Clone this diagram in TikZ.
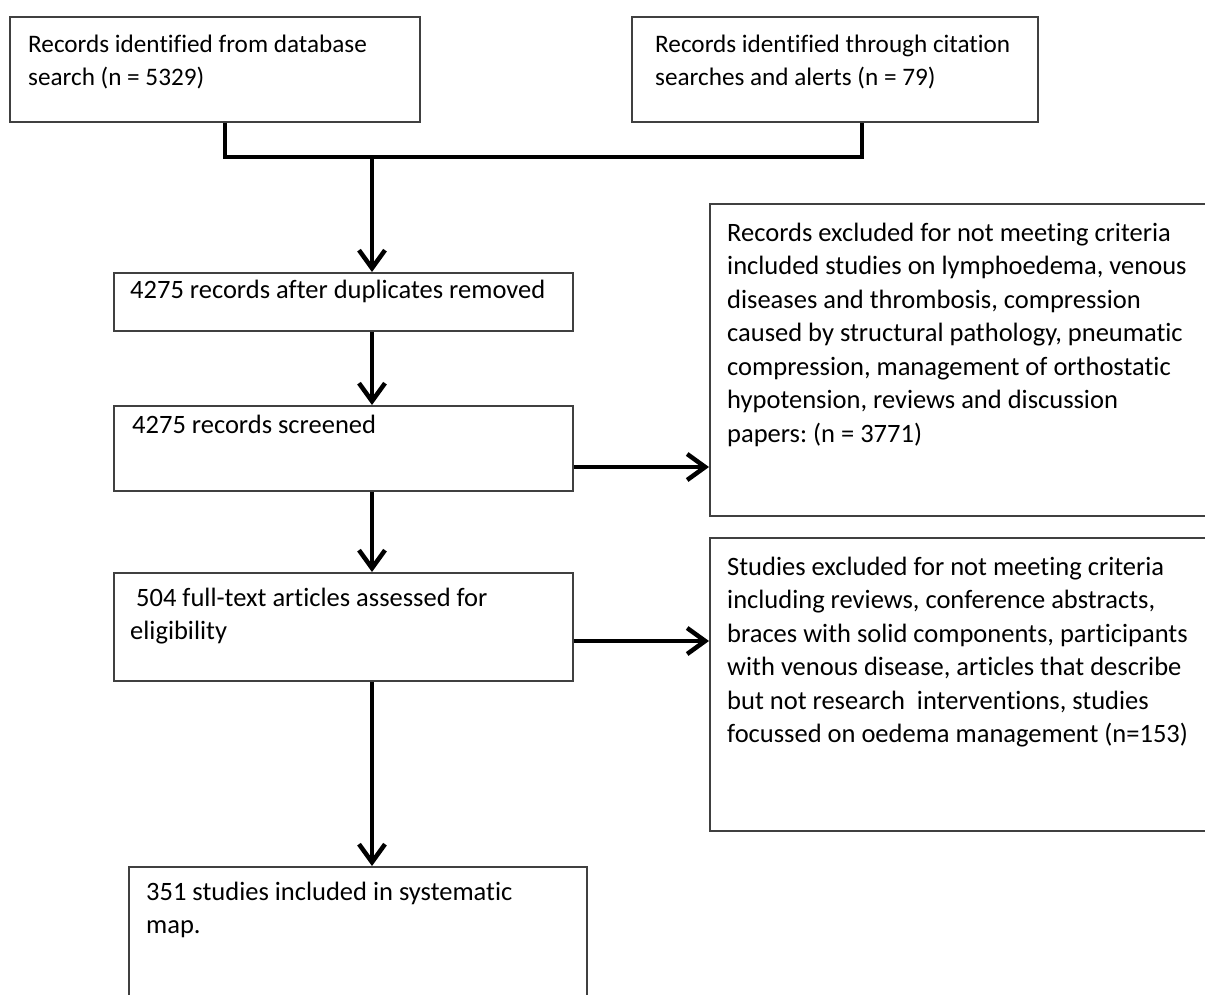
\documentclass[tikz,border=0pt]{standalone}
\usepackage{fontspec}
\setmainfont{Carlito}[Ligatures=NoCommon]
\frenchspacing
\usetikzlibrary{arrows.meta, positioning}

\begin{document}
\begin{tikzpicture}[x=1pt, y=-1pt,
    stage/.style={rectangle, draw=black!75, line width=1.5pt, anchor=north west, inner sep=0pt},
    stagetext/.style={anchor=north west, inner sep=0pt, align=left, font=\fontsize{26.5}{33.5}\selectfont},
    sourcetext/.style={stagetext, font=\fontsize{25.2}{33}\selectfont},
    flow/.style={line width=4.5pt, -{Straight Barb[length=18pt, width=26pt]}},
    bracket/.style={line width=4.5pt, line join=miter}
]
\clip (0,0) rectangle (1205,994);
% Identification
\node[stage, minimum width=410, minimum height=105] (dbsearch) at (9,16) {};
\node[sourcetext] (dbsearchtext) at ([shift={(19,18.5)}]dbsearch.north west) {Records identified from database\\search (n = 5329)};
\node[stage, minimum width=406, minimum height=105] (citesearch) at (631,16) {};
\node[sourcetext] (citesearchtext) at ([shift={(24,18.5)}]citesearch.north west) {Records identified through citation\\searches and alerts (n = 79)};
% Screening
\node[stage, minimum width=459, minimum height=58] (dedup) at (113,272) {};
\node[stagetext] (deduptext) at ([shift={(17,7.5)}]dedup.north west) {4275 records after duplicates removed};
\node[stage, minimum width=459, minimum height=85] (screened) at (113,405) {};
\node[stagetext] (screenedtext) at ([shift={(19,9.5)}]screened.north west) {4275 records screened};
\node[stage, minimum width=530, minimum height=312] (notmet) at (709,203) {};
\node[stagetext] (notmettext) at ([shift={(18,19.5)}]notmet.north west) {Records excluded for not meeting criteria\\included studies on lymphoedema, venous\\diseases and thrombosis, compression\\caused by structural pathology, pneumatic\\compression, management of orthostatic\\hypotension, reviews and discussion\\papers: (n = 3771)};
% Eligibility
\node[stage, minimum width=459, minimum height=108] (fulltext) at (113,572) {};
\node[stagetext] (fulltexttext) at ([shift={(17,15.5)}]fulltext.north west) {~504 full-text articles assessed for\\eligibility};
\node[stage, minimum width=530, minimum height=293] (excluded) at (709,537) {};
\node[stagetext] (excludedtext) at ([shift={(18,19.5)}]excluded.north west) {Studies excluded for not meeting criteria\\including reviews, conference abstracts,\\braces with solid components, participants\\with venous disease, articles that describe\\but not research~ interventions, studies\\focussed on oedema management (n=153)};
% Included
\node[stage, minimum width=458, minimum height=150] (included) at (128,866) {};
\node[stagetext] (includedtext) at ([shift={(18,15.5)}]included.north west) {351 studies included in systematic\\map.};
% Connectors
\coordinate (jl) at (225,157);
\coordinate (jr) at (862,157);
\coordinate (spine) at (372,157);
\coordinate (row1) at (0,467);
\coordinate (row2) at (0,641);
\draw[bracket] (dbsearch.south -| jl) -- (jl) -- (jr) -- (citesearch.south -| jr);
\draw[flow] (spine) -- (spine |- dedup.north);
\draw[flow] (spine |- dedup.south) -- (spine |- screened.north);
\draw[flow] (spine |- screened.south) -- (spine |- fulltext.north);
\draw[flow] (spine |- fulltext.south) -- (spine |- included.north);
\draw[flow] (screened.east |- row1) -- (notmet.west |- row1);
\draw[flow] (fulltext.east |- row2) -- (excluded.west |- row2);
\end{tikzpicture}
\end{document}
